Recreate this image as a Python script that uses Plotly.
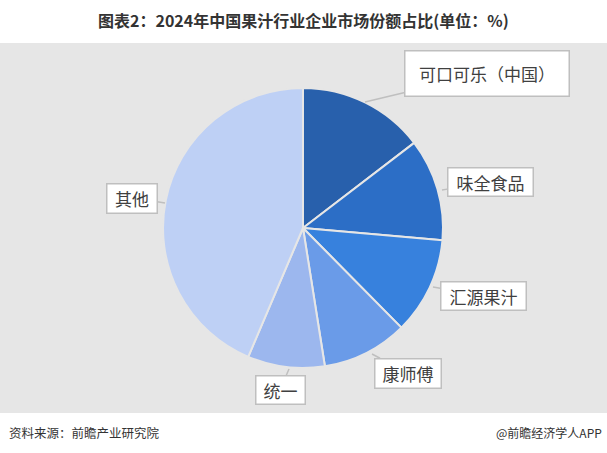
import plotly.graph_objects as go

# 2024 China juice industry market share (%)
companies = ["可口可乐（中国）", "味全食品", "汇源果汁", "康师傅", "统一", "其他"]
shares = [14.6, 11.8, 11.2, 9.9, 8.9, 43.6]
slice_colors = ["#2860AC", "#2C6EC6", "#3781DD", "#6A9BE8", "#9CB7EE", "#BED0F5"]

W, H = 607, 453
bg_gray = "#E6E6E6"
font_cjk = "Noto Sans CJK SC"

fig = go.Figure()

# pie centre ~(303, 228), radius ~140 px
fig.add_trace(go.Pie(
    labels=companies,
    values=shares,
    sort=False,
    direction="clockwise",
    rotation=0,
    textinfo="none",
    hoverinfo="label+percent",
    marker=dict(colors=slice_colors, line=dict(color=bg_gray, width=2)),
    domain=dict(x=[163 / W, 443 / W], y=[1 - 368 / H, 1 - 88 / H]),
    showlegend=False,
))

# callout boxes: tip point on pie edge (px), box offset (px), box size (px)
callouts = {
    "可口可乐（中国）": dict(tip=(365, 102), off=(122, -29), size=(161, 42)),
    "味全食品": dict(tip=(442, 190), off=(48, -8), size=(82, 25)),
    "汇源果汁": dict(tip=(433, 287), off=(50, 9), size=(82, 25)),
    "康师傅": dict(tip=(372, 354), off=(36, 19), size=(63, 26)),
    "其他": dict(tip=(165, 203), off=(-33, -5), size=(47, 26)),
    "统一": dict(tip=(289, 369), off=(-9, 21), size=(46, 25)),
}

annotations = []
for name in companies:
    c = callouts[name]
    annotations.append(dict(
        x=c["tip"][0] / W, y=1 - c["tip"][1] / H,
        xref="paper", yref="paper",
        ax=c["off"][0], ay=c["off"][1],
        text=name,
        showarrow=True, arrowhead=0, arrowwidth=1.5, arrowcolor="#BFBFBF",
        bgcolor="white", bordercolor="#BFBFBF", borderwidth=1.5, borderpad=1,
        width=c["size"][0], height=c["size"][1],
        font=dict(family=font_cjk, size=17, color="#404040"),
    ))

annotations += [
    dict(text="<b>图表2：2024年中国果汁行业企业市场份额占比(单位：%)</b>",
         x=0.5, y=1 - 20 / H, xref="paper", yref="paper", showarrow=False,
         xanchor="center", yanchor="middle",
         font=dict(family=font_cjk, size=16, color="#333333")),
    dict(text="资料来源：前瞻产业研究院",
         x=7 / W, y=1 - 432 / H, xref="paper", yref="paper", showarrow=False,
         xanchor="left", yanchor="middle",
         font=dict(family=font_cjk, size=12.5, color="#333333")),
    dict(text="@前瞻经济学人APP",
         x=604 / W, y=1 - 432 / H, xref="paper", yref="paper", showarrow=False,
         xanchor="right", yanchor="middle",
         font=dict(family=font_cjk, size=12, color="#333333")),
]

fig.update_layout(
    width=W, height=H,
    margin=dict(l=0, r=0, t=0, b=0),
    paper_bgcolor="white",
    plot_bgcolor="white",
    shapes=[dict(type="rect", xref="paper", yref="paper",
                 x0=0, x1=1, y0=1 - 413 / H, y1=1 - 43 / H,
                 fillcolor=bg_gray, line=dict(width=0), layer="below")],
    annotations=annotations,
)

# drop the browser's default body margin so the 607x453 figure fills the window
fig.write_html("out.html", config=dict(displayModeBar=False),
               post_script="document.body.style.margin='0';")
